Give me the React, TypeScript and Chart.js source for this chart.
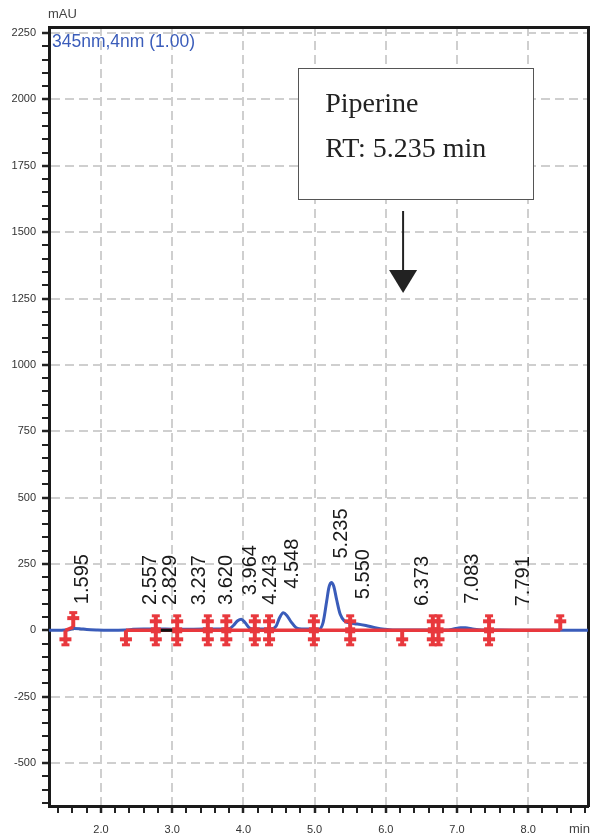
import React, { useEffect, useRef } from "react";
import { Chart, registerables } from "chart.js";
Chart.register(...registerables);

// ---- Data ----
const traceTitle = "345nm,4nm (1.00)";
const yUnit = "mAU";
const xUnit = "min";

const traceTimes = [
  1.27, 1.4, 1.5, 1.55, 1.62, 1.7, 1.8, 1.95, 2.1, 2.35, 2.45, 2.6, 2.8, 3.0, 3.3, 3.6, 3.72,
  3.8, 3.86, 3.92, 3.97, 4.02, 4.08, 4.14, 4.25, 4.4, 4.46, 4.51, 4.56, 4.61, 4.67, 4.74, 4.82,
  4.98, 5.06, 5.12, 5.17, 5.2, 5.235, 5.27, 5.31, 5.36, 5.42, 5.5, 5.6, 5.72, 5.85, 5.98, 6.1,
  6.3, 6.6, 6.85, 6.95, 7.05, 7.12, 7.22, 7.35, 7.6, 8.0, 8.45, 8.84,
];
const traceValues = [
  0, 0, 1, 2, 7, 6, 3, 1, 0, 1, 4, 5, 5, 4, 4, 5, 5,
  6, 18, 36, 42, 30, 10, 5, 5, 6, 16, 48, 66, 56, 32, 10, 5,
  5, 4, 30, 110, 160, 180, 165, 115, 60, 35, 27, 24, 18, 10, 4, 1,
  1, 1, 1, 5, 10, 10, 5, 1, 1, 0, 0, 0,
];

const baseline1Times = [1.5, 1.61];
const baseline1Values = [0, 12];
const baseline2Times = [2.35, 8.45];
const baseline2Values = [0, 0];
const blackSegTimes = [2.77, 3.07];
const blackSegValues = [0, 0];

const fullMarkTimes = [2.77, 3.07, 3.5, 3.76, 4.16, 4.36, 4.99, 5.5, 6.66, 6.74, 7.45];
const fullMarkValues = [0, 0, 0, 0, 0, 0, 0, 0, 0, 0, 0];
const downMarkTimes = [1.5, 2.35, 6.23];
const downMarkValues = [0, 0, 0];
const upMarkTimes = [1.61, 8.45];
const upMarkValues = [12, 0];

const peakTimes = [1.595, 2.557, 2.829, 3.237, 3.62, 3.964, 4.243, 4.548, 5.235, 5.55, 6.373, 7.083, 7.791];
const peakLabels = ["1.595", "2.557", "2.829", "3.237", "3.620", "3.964", "4.243", "4.548", "5.235", "5.550", "6.373", "7.083", "7.791"];
const peakApex = [8, 5, 5, 4, 5, 42, 6, 66, 180, 27, 1, 10, 0];

const calloutLines = ["Piperine", "RT: 5.235 min"];

const X_MIN = 1.27;
const X_MAX = 8.84;
const Y_MIN = -662;
const Y_MAX = 2273;

const RED = "#e8383d";
const BLUE = "#3a5cba";
const SANS = '"Liberation Sans", Arial, sans-serif';
const SERIF = '"Liberation Serif", "Times New Roman", serif';

function makeMarker(kind: "full" | "up" | "down"): HTMLCanvasElement {
  const c = document.createElement("canvas");
  c.width = 14;
  c.height = 34;
  const g = c.getContext("2d")!;
  g.fillStyle = RED;
  const drawUpper = kind !== "down";
  const drawLower = kind !== "up";
  if (drawUpper) {
    g.fillRect(5, 1, 4, 16);
    g.fillRect(1, 6, 12, 4);
    g.fillRect(3, 1, 8, 3);
  }
  if (drawLower) {
    g.fillRect(5, 17, 4, 16);
    g.fillRect(1, 24, 12, 4);
    g.fillRect(3, 30, 8, 3);
  }
  if (kind === "full") g.fillRect(2, 14, 10, 6);
  return c;
}

const pts = (xs: number[], ys: number[]) => xs.map((x, i) => ({ x, y: ys[i] }));
const isMajorX = (v: number) => Math.abs(v - Math.round(v)) < 1e-6;
const isMajorY = (v: number) => Math.abs(v / 250 - Math.round(v / 250)) < 1e-6;
const zeroPad = (s: any) => {
  s.paddingLeft = 0;
  s.paddingRight = 0;
  s.paddingTop = 0;
  s.paddingBottom = 0;
};

export default function App() {
  const ref = useRef<HTMLCanvasElement>(null);

  useEffect(() => {
    document.body.style.margin = "0";
    const canvas = ref.current!;

    const overlay = {
      id: "overlay",
      afterDatasetsDraw(chart: any) {
        const { ctx, chartArea, scales } = chart;
        const xs = scales.x;
        const ys = scales.y;
        ctx.save();

        // peak labels (rotated)
        ctx.fillStyle = "#1a1a1a";
        ctx.font = `20px ${SANS}`;
        ctx.textAlign = "left";
        ctx.textBaseline = "middle";
        peakTimes.forEach((t, i) => {
          const px = xs.getPixelForValue(t) + 10;
          const py = ys.getPixelForValue(peakApex[i]) - 24;
          ctx.save();
          ctx.translate(px, py);
          ctx.rotate(-Math.PI / 2);
          ctx.fillText(peakLabels[i], 0, 0);
          ctx.restore();
        });

        // trace title
        ctx.fillStyle = BLUE;
        ctx.font = `17.5px ${SANS}`;
        ctx.textBaseline = "top";
        ctx.textAlign = "left";
        ctx.fillText(traceTitle, chartArea.left + 3, chartArea.top + 6);

        // units
        ctx.fillStyle = "#444";
        ctx.font = `13px ${SANS}`;
        ctx.fillText(yUnit, chartArea.left - 1, 8);
        ctx.fillText(xUnit, 569, 823);

        // callout box
        const bx1 = xs.getPixelForValue(4.77);
        const bx2 = xs.getPixelForValue(8.07);
        const by1 = ys.getPixelForValue(2118);
        const by2 = ys.getPixelForValue(1625);
        ctx.fillStyle = "#fff";
        ctx.fillRect(bx1, by1, bx2 - bx1, by2 - by1);
        ctx.strokeStyle = "#555";
        ctx.lineWidth = 1;
        ctx.strokeRect(Math.round(bx1) + 0.5, Math.round(by1) + 0.5, Math.round(bx2 - bx1), Math.round(by2 - by1));
        ctx.fillStyle = "#222";
        ctx.font = `28px ${SERIF}`;
        ctx.textBaseline = "alphabetic";
        ctx.fillText(calloutLines[0], bx1 + 27, by1 + 44);
        ctx.fillText(calloutLines[1], bx1 + 27, by1 + 89);

        // arrow
        const ax = xs.getPixelForValue(6.243);
        const ay1 = by2 + 12;
        const ayTip = by2 + 94;
        ctx.strokeStyle = "#222";
        ctx.lineWidth = 2;
        ctx.beginPath();
        ctx.moveTo(ax, ay1);
        ctx.lineTo(ax, ayTip - 20);
        ctx.stroke();
        ctx.fillStyle = "#222";
        ctx.beginPath();
        ctx.moveTo(ax - 14, ayTip - 23);
        ctx.lineTo(ax + 14, ayTip - 23);
        ctx.lineTo(ax, ayTip);
        ctx.closePath();
        ctx.fill();

        ctx.restore();
      },
    };

    const full = makeMarker("full");
    const up = makeMarker("up");
    const down = makeMarker("down");
    const markerDs = (data: any[], img: HTMLCanvasElement) => ({
      type: "line" as const,
      data,
      showLine: false,
      pointStyle: img,
      pointRadius: 10,
      pointHoverRadius: 10,
      xAxisID: "x",
      yAxisID: "y",
    });
    const lineDs = (data: any[], color: string, width: number, smooth = false) => ({
      type: "line" as const,
      data,
      borderColor: color,
      borderWidth: width,
      pointRadius: 0,
      fill: false,
      cubicInterpolationMode: smooth ? ("monotone" as const) : ("default" as const),
      xAxisID: "x",
      yAxisID: "y",
    });

    const chart = new Chart(canvas, {
      type: "line",
      data: {
        datasets: [
          markerDs(pts(downMarkTimes, downMarkValues), down),
          markerDs(pts(upMarkTimes, upMarkValues), up),
          markerDs(pts(fullMarkTimes, fullMarkValues), full),
          lineDs(pts(blackSegTimes, blackSegValues), "#111", 3),
          lineDs(pts(baseline1Times, baseline1Values), RED, 3.5),
          lineDs(pts(baseline2Times, baseline2Values), RED, 3.5),
          lineDs(pts(traceTimes, traceValues), BLUE, 3, true),
        ] as any,
      },
      options: {
        responsive: false,
        animation: false,
        events: [],
        layout: { autoPadding: false, padding: { top: 27, right: 4, left: 0, bottom: 0 } },
        plugins: { legend: { display: false }, tooltip: { enabled: false } },
        scales: {
          x: {
            type: "linear",
            position: "bottom",
            min: X_MIN,
            max: X_MAX,
            afterFit: (s: any) => {
              s.height = 34;
              zeroPad(s);
            },
            ticks: {
              stepSize: 0.2,
              autoSkip: false,
              maxRotation: 0,
              minRotation: 0,
              includeBounds: false,
              padding: 10,
              color: "#333",
              font: { family: SANS, size: 11 },
              callback: (v: any) => (isMajorX(Number(v)) ? Number(v).toFixed(1) : ""),
            },
            grid: {
              color: (c: any) => (c.tick && isMajorX(c.tick.value) ? "#cfcfcf" : "rgba(0,0,0,0)"),
              lineWidth: 2,
              tickLength: 7,
              tickColor: "#222",
              tickWidth: (c: any) => (c.tick && isMajorX(c.tick.value) ? 2.5 : 2),
            },
            border: { display: true, color: "#1a1a1a", width: 3, dash: [9, 5] },
          },
          y: {
            type: "linear",
            position: "left",
            min: Y_MIN,
            max: Y_MAX,
            afterFit: (s: any) => {
              s.width = 49;
              zeroPad(s);
            },
            ticks: {
              stepSize: 50,
              autoSkip: false,
              includeBounds: false,
              padding: 6,
              color: "#333",
              font: { family: SANS, size: 11 },
              callback: (v: any) => (isMajorY(Number(v)) ? String(v) : ""),
            },
            grid: {
              color: (c: any) => (c.tick && isMajorY(c.tick.value) ? "#cfcfcf" : "rgba(0,0,0,0)"),
              lineWidth: 2,
              tickLength: 7,
              tickColor: "#222",
              tickWidth: (c: any) => (c.tick && isMajorY(c.tick.value) ? 2.5 : 2),
            },
            border: { display: true, color: "#1a1a1a", width: 3, dash: [9, 5] },
          },
          x2: {
            type: "linear",
            position: "top",
            min: X_MIN,
            max: X_MAX,
            afterFit: (s: any) => {
              s.height = 0;
              zeroPad(s);
            },
            ticks: { display: false },
            grid: { drawOnChartArea: false, drawTicks: false },
            border: { display: true, color: "#1a1a1a", width: 3 },
          },
          y2: {
            type: "linear",
            position: "right",
            min: Y_MIN,
            max: Y_MAX,
            afterFit: (s: any) => {
              s.width = 0;
              zeroPad(s);
            },
            ticks: { display: false },
            grid: { drawOnChartArea: false, drawTicks: false },
            border: { display: true, color: "#1a1a1a", width: 3 },
          },
        },
      } as any,
      plugins: [overlay],
    });
    return () => chart.destroy();
  }, []);

  return (
    <div style={{ width: 592, height: 840 }}>
      <canvas ref={ref} width={592} height={840} style={{ display: "block" }} />
    </div>
  );
}
